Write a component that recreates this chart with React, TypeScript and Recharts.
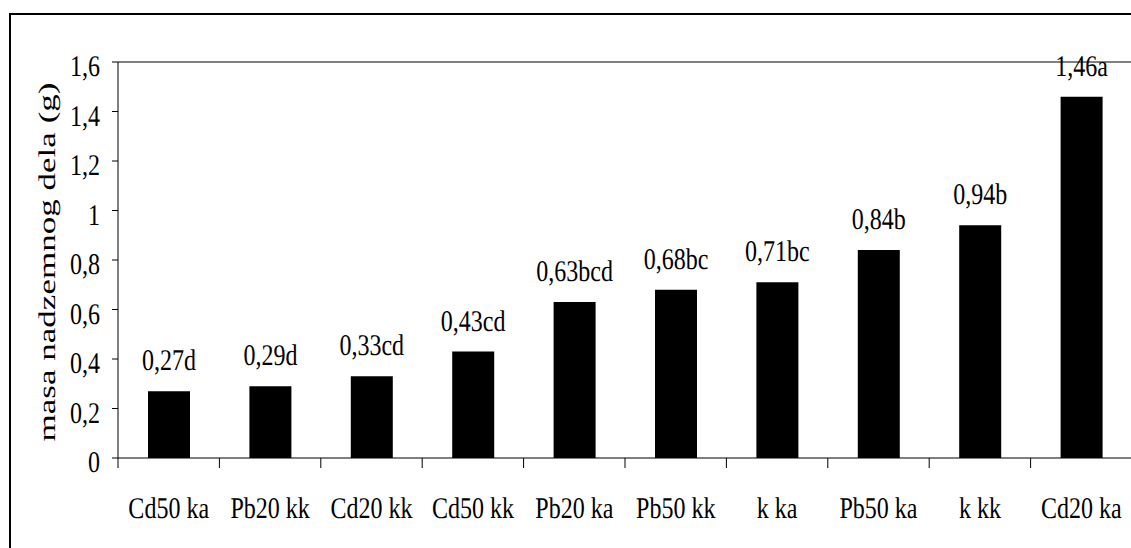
import React from "react"
import {
  BarChart,
  Bar,
  XAxis,
  YAxis,
  ReferenceLine,
  LabelList
} from "recharts"

const treatments = [
  "Cd50 ka",
  "Pb20 kk",
  "Cd20 kk",
  "Cd50 kk",
  "Pb20 ka",
  "Pb50 kk",
  "k ka",
  "Pb50 ka",
  "k kk",
  "Cd20 ka"
]

const mass = [0.27, 0.29, 0.33, 0.43, 0.63, 0.68, 0.71, 0.84, 0.94, 1.46]

const letters = ["d", "d", "cd", "cd", "bcd", "bc", "bc", "b", "b", "a"]

const yTicks = [0, 0.2, 0.4, 0.6, 0.8, 1, 1.2, 1.4, 1.6]

const data = treatments.map((name, i) => ({
  name,
  mass: mass[i],
  letter: letters[i]
}))

// layout
const W = 1140
const H = 548
const TOP = 62
const LEFT = 118
const RIGHT_PAD = 8
const X_AXIS_H = 90
const PLOT_BOTTOM = H - X_AXIS_H
const BAND = (W - LEFT - RIGHT_PAD) / treatments.length
const FONT = "Liberation Serif"
const STRETCH = 1.25

const comma = (v: number) => String(v).replace(".", ",")

const textStyle = {
  fontFamily: FONT,
  fontSize: 24,
  fill: "#000",
  textRendering: "geometricPrecision" as const
}

function CategoryTick(props: any) {
  const { x, payload, index } = props
  const left = x - BAND / 2
  return (
    <g>
      <line x1={left} x2={left} y1={PLOT_BOTTOM} y2={PLOT_BOTTOM + 10} stroke="#000" />
      {index === treatments.length - 1 && (
        <line x1={x + BAND / 2} x2={x + BAND / 2} y1={PLOT_BOTTOM} y2={PLOT_BOTTOM + 10} stroke="#000" />
      )}
      <text
        transform={`translate(${x}, ${PLOT_BOTTOM + 60}) scale(1, ${STRETCH})`}
        textAnchor="middle"
        style={textStyle}
      >
        {payload.value}
      </text>
    </g>
  )
}

function ValueTick(props: any) {
  const { y, payload } = props
  return (
    <text
      transform={`translate(100, ${y + 14}) scale(1, ${STRETCH})`}
      textAnchor="end"
      style={textStyle}
    >
      {comma(payload.value)}
    </text>
  )
}

function BarLabel(props: any) {
  const { x, y, width, value, index } = props
  return (
    <text
      transform={`translate(${x + width / 2}, ${y - 21}) scale(1, ${STRETCH})`}
      textAnchor="middle"
      style={textStyle}
    >
      {comma(value) + letters[index]}
    </text>
  )
}

function AxisTitle() {
  return (
    <text
      transform="translate(55, 262) rotate(-90) scale(1.46, 1)"
      textAnchor="middle"
      style={textStyle}
    >
      masa nadzemnog dela (g)
    </text>
  )
}

export default function App() {
  return (
    <div
      style={{
        position: "absolute",
        left: 0,
        top: 0,
        width: 1131,
        height: 548,
        overflow: "hidden",
        background: "#fff"
      }}
    >
      <div
        style={{
          position: "absolute",
          left: 9,
          top: 13,
          width: 1200,
          height: 600,
          border: "2px solid #000"
        }}
      />
      <div style={{ position: "absolute", left: 0, top: 0 }}>
        <BarChart
          width={W}
          height={H}
          data={data}
          margin={{ top: TOP, right: RIGHT_PAD, left: 0, bottom: 0 }}
        >
          <XAxis
            dataKey="name"
            height={X_AXIS_H}
            axisLine={{ stroke: "#000" }}
            tickLine={false}
            tick={<CategoryTick />}
            interval={0}
          />
          <YAxis
            width={LEFT}
            domain={[0, 1.6]}
            ticks={yTicks}
            axisLine={{ stroke: "#000" }}
            tickLine={{ stroke: "#000" }}
            tickSize={6}
            tick={<ValueTick />}
            interval={0}
            label={<AxisTitle />}
          />
          <ReferenceLine y={1.6} stroke="#000" />
          <Bar dataKey="mass" fill="#000" barSize={42} isAnimationActive={false}>
            <LabelList dataKey="mass" content={<BarLabel />} />
          </Bar>
        </BarChart>
      </div>
    </div>
  )
}
